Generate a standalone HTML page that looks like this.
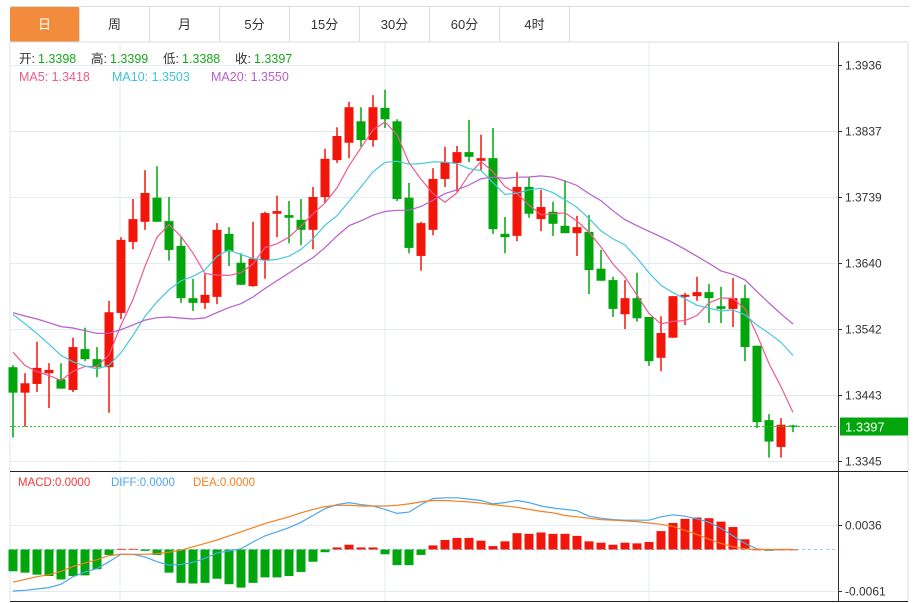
<!DOCTYPE html>
<html><head><meta charset="utf-8">
<style>
body{margin:0;background:#fff;width:915px;height:603px;overflow:hidden;font-family:"Liberation Sans","Noto Sans CJK SC",sans-serif;}
#wrap{position:relative;width:915px;height:603px;}
.tab{position:absolute;top:7px;height:35px;width:70px;border-right:1px solid #dcdcdc;text-align:center;line-height:35px;font-size:13px;color:#333;box-sizing:border-box;}
.tab.active{background:#f28c3c;color:#fff;border-radius:2px;}
svg{position:absolute;left:0;top:0;}
</style></head>
<body>
<div id="wrap">
<div style="position:absolute;left:9px;top:6px;width:901px;height:1px;background:#dcdcdc"></div>
<div class="tab active" style="left:10px">日</div>
<div class="tab" style="left:80px">周</div>
<div class="tab" style="left:150px">月</div>
<div class="tab" style="left:220px">5分</div>
<div class="tab" style="left:290px">15分</div>
<div class="tab" style="left:360px">30分</div>
<div class="tab" style="left:430px">60分</div>
<div class="tab" style="left:500px">4时</div>
<svg id="chart" width="915" height="603"></svg>
</div>
<script>
const opens=[1.3485,1.3447,1.3460,1.3476,1.3467,1.3451,1.3512,1.3497,1.3485,1.3566,1.3672,1.3702,1.3738,1.3703,1.3666,1.3588,1.3581,1.3590,1.3684,1.3641,1.3606,1.3645,1.3714,1.3712,1.3705,1.3690,1.3739,1.3794,1.3820,1.3852,1.3824,1.3872,1.3852,1.3738,1.3651,1.3690,1.3766,1.3790,1.3806,1.3793,1.3797,1.3684,1.3681,1.3754,1.3706,1.3717,1.3696,1.3685,1.3687,1.3632,1.3615,1.3564,1.3588,1.3560,1.3499,1.3529,1.3590,1.3591,1.3597,1.3576,1.3572,1.3588,1.3517,1.3406,1.3366,1.3398];
const highs=[1.3488,1.3476,1.3523,1.3491,1.3491,1.3529,1.3544,1.3515,1.3584,1.3679,1.3736,1.3779,1.3785,1.3739,1.3679,1.3617,1.3624,1.3700,1.3694,1.3655,1.3702,1.3717,1.3741,1.3733,1.3736,1.3754,1.3811,1.3843,1.3881,1.3873,1.3891,1.3899,1.3855,1.3760,1.3702,1.3782,1.3814,1.3815,1.3854,1.3832,1.3842,1.3709,1.3776,1.3769,1.3750,1.3732,1.3764,1.3711,1.3712,1.3660,1.3620,1.3615,1.3626,1.3560,1.3561,1.3591,1.3596,1.3620,1.3609,1.3605,1.3618,1.3608,1.3517,1.3415,1.3409,1.3399];
const lows=[1.3380,1.3396,1.3448,1.3424,1.3453,1.3448,1.3494,1.3470,1.3417,1.3557,1.3661,1.3690,1.3702,1.3644,1.3581,1.3569,1.3572,1.3579,1.3636,1.3608,1.3605,1.3617,1.3679,1.3670,1.3667,1.3661,1.3730,1.3790,1.3797,1.3814,1.3814,1.3842,1.3733,1.3655,1.3629,1.3682,1.3754,1.3747,1.3791,1.3779,1.3684,1.3655,1.3673,1.3708,1.3688,1.3681,1.3685,1.3651,1.3594,1.3614,1.3560,1.3542,1.3553,1.3487,1.3479,1.3529,1.3548,1.3584,1.3551,1.3551,1.3545,1.3494,1.3394,1.3350,1.3350,1.3388];
const closes=[1.3447,1.3461,1.3484,1.3481,1.3453,1.3515,1.3497,1.3485,1.3567,1.3675,1.3706,1.3745,1.3702,1.3660,1.3588,1.3581,1.3593,1.3690,1.3658,1.3608,1.3647,1.3715,1.3718,1.3708,1.3690,1.3739,1.3796,1.3830,1.3873,1.3824,1.3873,1.3855,1.3736,1.3663,1.3700,1.3766,1.3791,1.3806,1.3799,1.3797,1.3691,1.3679,1.3754,1.3714,1.3724,1.3699,1.3685,1.3694,1.3630,1.3614,1.3572,1.3588,1.3558,1.3494,1.3536,1.3591,1.3593,1.3597,1.3588,1.3572,1.3588,1.3515,1.3403,1.3374,1.3399,1.3397];
const priorCloses=[1.3560,1.3575,1.3590,1.3570,1.3555,1.3580,1.3565,1.3560,1.3570,1.3565,1.3600,1.3630,1.3640,1.3620,1.3610,1.3560,1.3530,1.3510,1.3490];
const priceTicks=[1.3936,1.3837,1.3739,1.3640,1.3542,1.3443,1.3345];
const maLegendValues=[1.3418,1.3503,1.3550];
const macdHist=[-0.0032,-0.0034,-0.0037,-0.0039,-0.0044,-0.0039,-0.0038,-0.0029,-0.0008,0.0001,0.0001,-0.0002,-0.0008,-0.0034,-0.0049,-0.0050,-0.0049,-0.0043,-0.0051,-0.0056,-0.0049,-0.0041,-0.0041,-0.0039,-0.0033,-0.0018,-0.0004,0.0003,0.0007,0.0003,0.0003,-0.0007,-0.0023,-0.0023,-0.0008,0.0006,0.0014,0.0017,0.0017,0.0013,0.0005,0.0012,0.0024,0.0023,0.0025,0.0023,0.0023,0.0020,0.0012,0.0010,0.0007,0.0010,0.0009,0.0011,0.0027,0.0039,0.0045,0.0047,0.0046,0.0041,0.0033,0.0015,0.0000,-0.0002,0.0000,0.0000];
const diffVals=[-0.0061,-0.0060,-0.0058,-0.0056,-0.0051,-0.0040,-0.0033,-0.0028,-0.0018,-0.0007,-0.0007,-0.0011,-0.0018,-0.0023,-0.0022,-0.0019,-0.0013,-0.0005,-0.0002,0.0001,0.0011,0.0020,0.0026,0.0032,0.0040,0.0050,0.0060,0.0066,0.0069,0.0066,0.0064,0.0059,0.0053,0.0055,0.0066,0.0075,0.0076,0.0076,0.0074,0.0072,0.0067,0.0069,0.0072,0.0069,0.0064,0.0061,0.0059,0.0057,0.0049,0.0046,0.0044,0.0043,0.0043,0.0043,0.0048,0.0051,0.0049,0.0045,0.0040,0.0031,0.0020,0.0009,0.0001,-0.0001,0.0000,0.0000];
const deaVals=[-0.0048,-0.0044,-0.0040,-0.0037,-0.0032,-0.0025,-0.0020,-0.0015,-0.0009,-0.0007,-0.0007,-0.0007,-0.0006,-0.0004,-0.0001,0.0004,0.0009,0.0014,0.0020,0.0026,0.0032,0.0038,0.0043,0.0048,0.0054,0.0059,0.0063,0.0065,0.0065,0.0064,0.0064,0.0064,0.0065,0.0067,0.0070,0.0072,0.0072,0.0071,0.0070,0.0068,0.0066,0.0064,0.0062,0.0059,0.0056,0.0054,0.0050,0.0048,0.0046,0.0044,0.0043,0.0042,0.0041,0.0039,0.0037,0.0034,0.0028,0.0022,0.0015,0.0009,0.0004,0.0001,0.0000,0.0000,0.0000,0.0000];
const macdTicks=[0.0036,-0.0061];

const NS='http://www.w3.org/2000/svg';
const svg=document.getElementById('chart');
function mk(tag,attrs,parent){const e=document.createElementNS(NS,tag);for(const k in attrs)e.setAttribute(k,attrs[k]);(parent||svg).appendChild(e);return e;}
const L=10,R=838;
const xAt=i=>13+12*i;
const yP=p=>65+(1.3936-p)*(396/0.0591);
const yM=v=>549.5-v*(66/0.0097);
const RED='#f2150a',GREEN='#00a60c';

let e;
e=mk('line',{x1:L,y1:42,x2:L,y2:601,stroke:'#dfe6ec'});
e=mk('line',{x1:908,y1:42,x2:908,y2:601,stroke:'#dcdcdc'});
e=mk('line',{x1:L,y1:42,x2:908,y2:42,stroke:'#dcdcdc'});
[120,385,649].forEach(x=>{e=mk('line',{x1:x,y1:42,x2:x,y2:601,stroke:'#e3ebf2'});});
priceTicks.forEach(t=>{const y=Math.round(yP(t))+0.5;
 e=mk('line',{x1:L,y1:y,x2:R,y2:y,stroke:'#e3ebf2'});
 e=mk('line',{x1:R,y1:y,x2:R+4,y2:y,stroke:'#333'});
 e=mk('text',{x:845,y:y+4,'font-size':12,fill:'#333'});e.textContent=t.toFixed(4);});
macdTicks.forEach(t=>{const y=Math.round(yM(t))+0.5;
 e=mk('line',{x1:L,y1:y,x2:R,y2:y,stroke:'#e3ebf2'});
 e=mk('line',{x1:R,y1:y,x2:R+4,y2:y,stroke:'#333'});
 e=mk('text',{x:845,y:y+4,'font-size':12,fill:'#333'});e.textContent=t.toFixed(4);});
e=mk('line',{x1:R+0.5,y1:42,x2:R+0.5,y2:601,stroke:'#333'});
e=mk('line',{x1:L,y1:471.5,x2:908,y2:471.5,stroke:'#222'});
e=mk('line',{x1:L,y1:601.5,x2:908,y2:601.5,stroke:'#222'});

for(let i=0;i<closes.length;i++){
 const col=closes[i]>opens[i]?RED:GREEN;const x=xAt(i);
 const g=mk('g',{});
 mk('line',{x1:x,y1:yP(highs[i]),x2:x,y2:yP(lows[i]),stroke:col,'stroke-width':1.5},g);
 const t=Math.min(yP(opens[i]),yP(closes[i])),b=Math.max(yP(opens[i]),yP(closes[i]));
 mk('rect',{x:x-4.5,y:t,width:9,height:Math.max(b-t,1.5),fill:col},g);
}
const all=priorCloses.concat(closes);
function ma(n){const out=[];for(let i=0;i<closes.length;i++){const j=i+priorCloses.length;let s=0;for(let k=j-n+1;k<=j;k++)s+=all[k];out.push(s/n);}return out;}
[[5,'#ec5a8c','ma5-line'],[10,'#45c8dc','ma10-line'],[20,'#b65fca','ma20-line']].forEach(([n,c,nm])=>{
 const v=ma(n);const d=v.map((p,i)=>(i?'L':'M')+xAt(i)+','+yP(p).toFixed(1)).join('');
 e=mk('path',{d:d,fill:'none',stroke:c,'stroke-width':1.2});});
const ly=Math.round(yP(closes[closes.length-1]))+0.5;
e=mk('line',{x1:L,y1:ly,x2:R,y2:ly,stroke:'#2cc22c','stroke-dasharray':'2,2'});
e=mk('rect',{x:840,y:ly-9,width:68,height:18,fill:'#00a60c'});
e=mk('text',{x:845,y:ly+5,'font-size':13,fill:'#fff'});e.textContent=closes[closes.length-1].toFixed(4);

const zy=yM(0);
e=mk('line',{x1:L,y1:zy,x2:R,y2:zy,stroke:'#8fd0ea','stroke-dasharray':'3,3'});
macdHist.forEach((v,i)=>{const y=yM(v);const x=xAt(i);
 e=mk('rect',{x:x-4.5,y:Math.min(y,zy),width:9,height:Math.max(Math.abs(y-zy),0.8),fill:v>=0?RED:GREEN});
 });
[[diffVals,'#4ba8ea','diff-line'],[deaVals,'#f57e20','dea-line']].forEach(([vals,c,nm])=>{
 const d=vals.map((v,i)=>(i?'L':'M')+xAt(i)+','+yM(v).toFixed(1)).join('');
 e=mk('path',{d:d,fill:'none',stroke:c,'stroke-width':1.2});});

function txt(x,y,s,c,fs,nm){const t=mk('text',{x:x,y:y,'font-size':fs,fill:c,'font-family':'"Liberation Sans","Noto Sans CJK SC",sans-serif'});t.textContent=s;return t;}
const ohlc=[['开:',opens,19],['高:',highs,91],['低:',lows,163],['收:',closes,235]];
const last=closes.length-1;
ohlc.forEach(([lab,arr,lx])=>{txt(lx,63,lab,'#333',12.5,'ohlc-legend-label');txt(lx+19,63,arr[last].toFixed(4),'#1aa81a',12.5,'ohlc-legend-value');});
txt(19,81,'MA5: '+maLegendValues[0].toFixed(4),'#ec5a8c',12.5,'legend-ma5');
txt(112,81,'MA10: '+maLegendValues[1].toFixed(4),'#3fc3dc',12.5,'legend-ma10');
txt(211,81,'MA20: '+maLegendValues[2].toFixed(4),'#b65fca',12.5,'legend-ma20');
txt(18,486,'MACD:0.0000','#f03c3c',11.5,'legend-macd');
txt(111,486,'DIFF:0.0000','#4ba8ea',11.5,'legend-diff');
txt(193,486,'DEA:0.0000','#f57e20',11.5,'legend-dea');
</script>
</body></html>
